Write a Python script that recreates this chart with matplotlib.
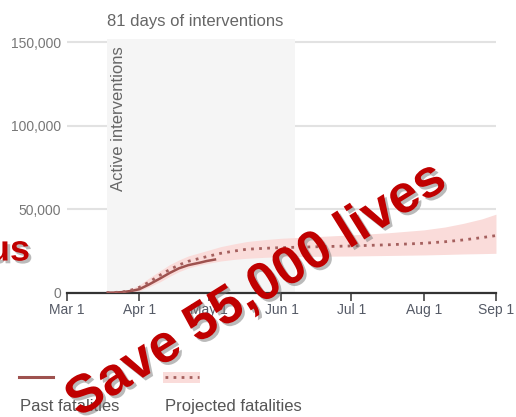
import matplotlib.pyplot as plt
import matplotlib.patheffects as pe
from matplotlib.lines import Line2D
from matplotlib.patches import Rectangle

plt.rcParams['font.family'] = ['Liberation Sans', 'DejaVu Sans']

# days counted from Mar 1
tick_days = [0, 31, 61, 92, 122, 153, 184]
tick_labels = ['Mar 1', 'Apr 1', 'May 1', 'Jun 1', 'Jul 1', 'Aug 1', 'Sep 1']
interv_start, interv_end = 17, 98

past_days = [17, 20, 24, 28, 31, 35, 40, 44, 48, 52, 57, 60, 64]
past_vals = [0, 50, 400, 1200, 2100, 4800, 8600, 11800, 14600, 16500, 18000, 19000, 20000]

proj_days = [17, 20, 25, 28, 31, 35, 40, 44, 48, 52, 57, 62, 66, 72, 77, 85, 92,
             107, 122, 138, 153, 162, 170, 178, 184]
proj_vals = [0, 100, 700, 1800, 3200, 6200, 10600, 13800, 16600, 18800, 20600, 22300,
             23600, 25000, 26000, 26600, 27000, 27500, 28000, 28700, 29600, 30500,
             31600, 33000, 34200]

band_days = [14, 18, 22, 26, 31, 35, 40, 44, 48, 52, 57, 62, 66, 72, 77, 85, 92,
             107, 122, 138, 153, 162, 170, 178, 184]
band_hi = [0, 100, 400, 1600, 4600, 8600, 13200, 16800, 19600, 22000, 24000, 26000,
           27600, 29300, 30600, 31800, 32600, 33600, 34600, 35900, 37600, 39300,
           41500, 44200, 47000]
band_lo = [0, 0, 0, 200, 1000, 3400, 6600, 9800, 12600, 14800, 16600, 18000,
           19000, 20000, 20600, 21200, 21600, 21800, 22000, 22300, 22600, 22900,
           23200, 23400, 23600]

past_c = '#9e524f'
proj_c = '#a5605e'
band_c = '#fadcda'

fig = plt.figure(figsize=(5.16, 4.17), dpi=100)
ax = fig.add_axes([0.1298, 0.298, 0.8314, 0.6084])

ax.set_xlim(0, 184)
ax.set_ylim(0, 151800)
ax.set_yticks([0, 50000, 100000, 150000])
ax.set_yticklabels(['0', '50,000', '100,000', '150,000'])
ax.grid(axis='y', color='#e2e2e2', lw=1.5)
ax.set_axisbelow(True)
ax.axvspan(interv_start, interv_end, color='#f5f5f5', zorder=1, lw=0)

ax.fill_between(band_days, band_lo, band_hi, color=band_c, lw=0, zorder=2)
ax.plot(past_days, past_vals, color=past_c, lw=1.8, zorder=3, solid_capstyle='butt')
ax.plot(proj_days, proj_vals, color=proj_c, lw=2, ls=(0, (1, 1.9)), zorder=4,
        dash_capstyle='butt')

for s in ['top', 'right', 'left']:
    ax.spines[s].set_visible(False)
ax.spines['bottom'].set_color('#333333')
ax.spines['bottom'].set_linewidth(1.6)
ax.set_xticks(tick_days)
ax.set_xticklabels(tick_labels)
ax.tick_params(axis='x', length=5.5, width=1.2, color='#444444', labelsize=10,
               labelcolor='#555a66', pad=2)
ax.tick_params(axis='y', length=0, labelsize=10, labelcolor='#777777', pad=4)

ax.text(interv_start, 1.071, '81 days of interventions', transform=ax.get_xaxis_transform(),
        ha='left', va='center', fontsize=12, color='#666666')
ax.text(22.3, 147400, 'Active interventions', rotation=90, ha='center', va='top',
        fontsize=12, color='#666666', zorder=5)

# legend, drawn by hand
fig.add_artist(Line2D([0.0368, 0.1027], [0.0959, 0.0959], color=past_c, lw=2.2,
                      transform=fig.transFigure))
fig.text(0.0388, 0.024, 'Past fatalities', fontsize=12, color='#555555', va='center')
fig.add_artist(Rectangle((0.316, 0.0815), 0.0717, 0.0264, color=band_c, lw=0,
                         transform=fig.transFigure))
fig.add_artist(Line2D([0.320, 0.385], [0.0959, 0.0959], color=proj_c, lw=2,
                      ls=(0, (1, 1.9)), dash_capstyle='butt', transform=fig.transFigure))
fig.text(0.320, 0.024, 'Projected fatalities', fontsize=12, color='#555555', va='center')

# red overlay text
shadow = [pe.withSimplePatchShadow(offset=(2, -2), shadow_rgbFace='#777777', alpha=0.5)]
fig.text(257 / 516, 1 - 290 / 417, 'Save 55,000 lives', rotation=32, fontsize=38.5,
         fontweight='bold', color='#c00000', ha='center', va='center',
         rotation_mode='anchor', path_effects=shadow, zorder=10)
fig.text(30 / 516, 1 - 251 / 417, 'us', fontsize=26, fontweight='bold', color='#c00000',
         ha='right', va='center', path_effects=shadow, zorder=10)

fig.savefig('out.png', dpi=100)
